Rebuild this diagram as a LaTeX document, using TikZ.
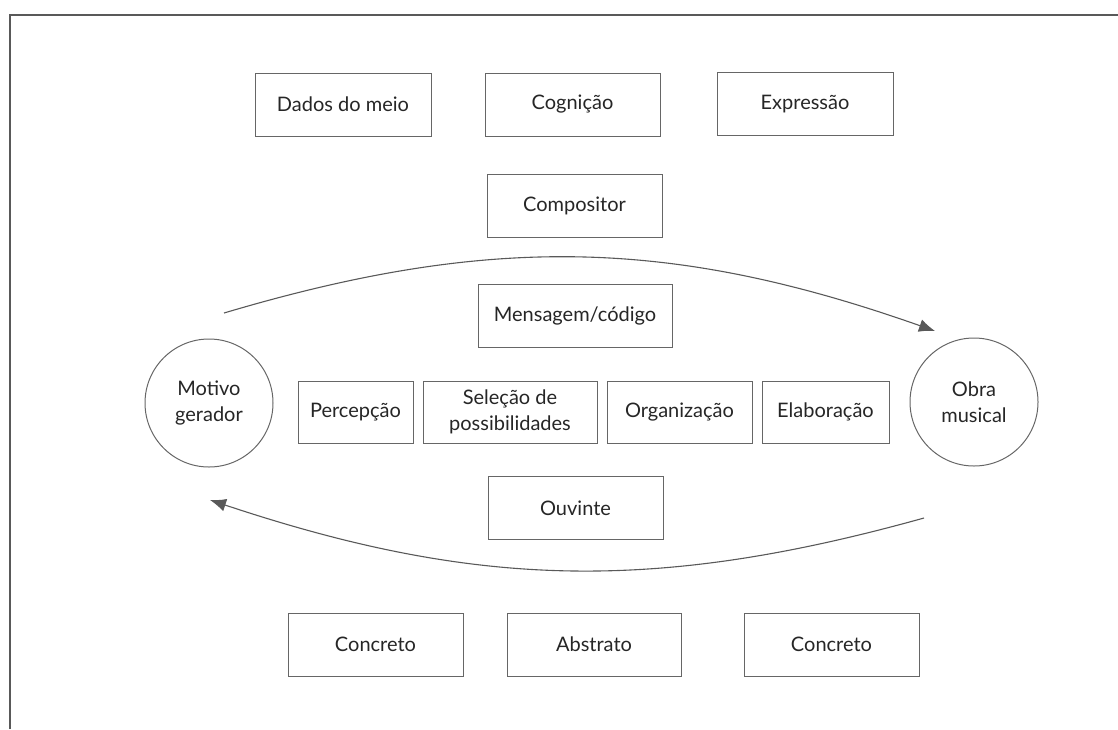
\documentclass[tikz,border=0pt]{standalone}
\usepackage{fontspec}
\setmainfont{Lato}
\usepackage{tikz}
\usetikzlibrary{arrows.meta, positioning}
\tikzset{>/.tip={Latex[length=8pt,width=6.5pt]}}
\tikzset{box/.style={draw=black!60, line width=0.5pt, minimum width=87.5pt, minimum height=31.5pt, inner sep=1pt, align=center, text=black!85, font=\fontsize{10}{13}\selectfont}}
\tikzset{ring/.style={draw=black!60, line width=0.5pt, circle, minimum size=64pt, inner sep=0pt, align=center, text=black!85, font=\fontsize{10}{13}\selectfont}}
\tikzset{flow/.style={draw=black!65, line width=0.55pt}}

\begin{document}
\begin{tikzpicture}[x=0.5pt, y=-0.5pt, node distance = 4.5pt]
\useasboundingbox (0,0) rectangle (1118,729);
\draw[black!65, line width=0.9pt] (10,729) -- (10,15) -- (1118,15);
\node[box, minimum width=88pt] (dados) at (343,104.5) {Dados do meio};
\node[box] (cognicao) at (572.5,104.5) {Cognição};
\node[box, minimum width=88pt] (expressao) at (805,104) {Expressão};
\node[box] (compositor) at (574.5,205.5) {Compositor};
\node[box, minimum width=97pt] (mensagem) at (575,315.5) {Mensagem/código};
\node[box, minimum width=57.5pt, minimum height=31pt] (percepcao) at (355.5,412) {Percepção};
\node[box, minimum width=87pt, minimum height=31pt] (selecao) [right=of percepcao] {Seleção de\\possibilidades};
\node[box, minimum width=72.5pt, minimum height=31pt] (organizacao) [right=of selecao] {Organização};
\node[box, minimum width=63.5pt, minimum height=31pt] (elaboracao) [right=of organizacao] {Elaboração};
\node[ring] (motivo) at (209,403) {Motivo\\gerador};
\node[ring] (obra) at (974,402) {Obra\\musical};
\node[box] (ouvinte) at (575.5,508) {Ouvinte};
\node[box] (concreto1) at (375.5,644.5) {Concreto};
\node[box, minimum width=87pt] (abstrato) at (594,644.5) {Abstrato};
\node[box] (concreto2) at (831.5,644.5) {Concreto};
\coordinate (gostart) at (224,313);
\coordinate (goend) at (935,331);
\coordinate (backstart) at (924,518);
\coordinate (backend) at (210,500);
\draw[->, flow] (gostart) to[bend left=18] (goend);
\draw[->, flow] (backstart) to[bend left=17] (backend);
\end{tikzpicture}
\end{document}
